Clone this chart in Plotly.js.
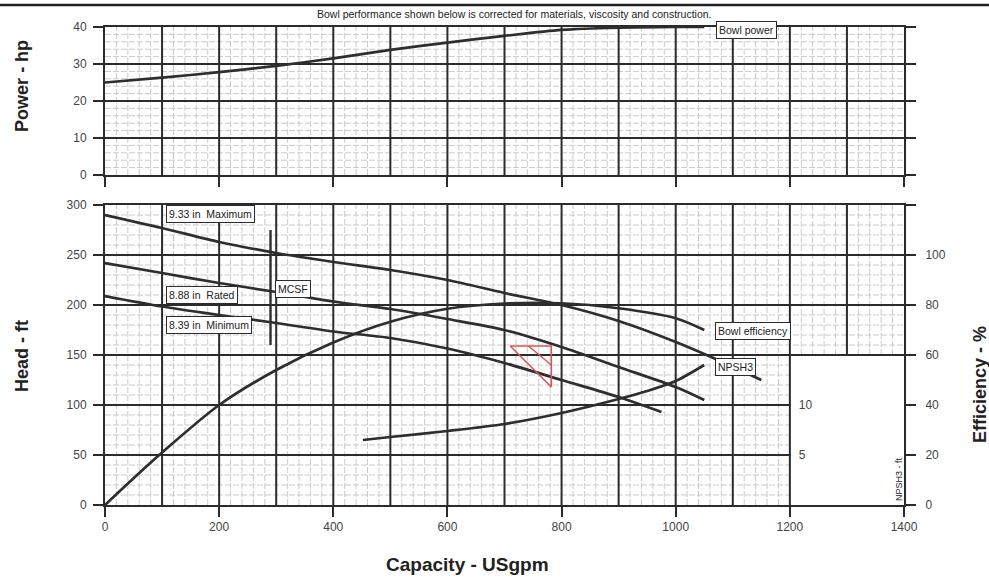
<!DOCTYPE html>
<html><head><meta charset="utf-8">
<script src="https://cdn.plot.ly/plotly-3.0.1.min.js"></script>
<style>html,body{margin:0;padding:0;background:#fff}#chart{width:989px;height:577px}</style>
</head><body><div id="chart"></div>
<script>
// ---- data ----
const xTicks = [0, 200, 400, 600, 800, 1000, 1200, 1400];
const powerTicks = [0, 10, 20, 30, 40];
const headTicks = [0, 50, 100, 150, 200, 250, 300];
const effTicks = [0, 20, 40, 60, 80, 100];
const npshTicks = [5, 10];

const powerQ  = [0, 100, 200, 300, 400, 500, 600, 700, 800, 900, 1000, 1050];
const powerHp = [25, 26.3, 27.8, 29.5, 31.5, 33.8, 35.8, 37.6, 39.2, 39.8, 40, 40];

const maxQ = [0, 100, 200, 300, 400, 500, 600, 700, 800, 900, 1000, 1066, 1150];
const maxH = [290, 277, 263, 252, 243, 235, 225, 212, 200, 184, 163, 147, 125];

const ratedQ = [0, 100, 200, 300, 400, 500, 600, 700, 800, 900, 1000, 1050];
const ratedH = [242, 232, 222, 213, 203.5, 196, 186, 175, 158, 138, 118, 105];

const minQ = [0, 100, 200, 300, 400, 500, 600, 700, 800, 900, 975];
const minH = [209, 198.5, 190, 182, 173.5, 167, 156.5, 142, 125, 108, 93];

const effQ = [0, 50, 100, 200, 300, 400, 500, 600, 700, 800, 900, 1000, 1050];
const effPct = [0, 10.7, 21, 40, 54, 65, 73.3, 78.5, 80.6, 80.7, 78.7, 74.7, 70];

const npshQ  = [452, 500, 600, 700, 800, 900, 950, 1000, 1050];
const npshFt = [6.5, 6.8, 7.4, 8.1, 9.2, 10.6, 11.4, 12.4, 14.0];

const mcsfQ = [290, 290];
const mcsfH = [160, 275];

const dutyTriQ = [710, 782, 782, 710];
const dutyTriH = [159, 159, 118, 159];
const dutyInnerQ = [742, 782];
const dutyInnerH = [159, 140];

// ---- styling ----
const FONT = '"Liberation Sans", Arial, Helvetica, sans-serif';
const DARK = '#2b2b2b';
const CURVE = '#2e2e2e';
const MINOR = '#cacaca';

function curve(x, y, xa, ya, extra) {
  return Object.assign({
    type: 'scatter', mode: 'lines', x: x, y: y, xaxis: xa, yaxis: ya,
    line: {color: CURVE, width: 2.7, shape: 'spline', smoothing: 0.8},
    hoverinfo: 'skip'
  }, extra || {});
}

const traces = [
  curve(powerQ, powerHp, 'x2', 'y'),
  curve(maxQ, maxH, 'x', 'y2'),
  curve(ratedQ, ratedH, 'x', 'y2'),
  curve(minQ, minH, 'x', 'y2'),
  curve(effQ, effPct, 'x', 'y3'),
  curve(npshQ, npshFt, 'x', 'y4'),
  curve(mcsfQ, mcsfH, 'x', 'y2', {line: {color: CURVE, width: 2.4}}),
  curve(dutyTriQ, dutyTriH, 'x', 'y2', {line: {color: '#d8585a', width: 1.6}}),
  curve(dutyInnerQ, dutyInnerH, 'x', 'y2', {line: {color: '#d8585a', width: 1.6}})
];

// ---- grid (chart paper) ----
const shapes = [];
function ln(xref, yref, x0, y0, x1, y1, major) {
  shapes.push({type: 'line', xref: xref, yref: yref, x0: x0, y0: y0, x1: x1, y1: y1, layer: 'below',
    line: major ? {color: DARK, width: 2} : {color: MINOR, width: 1, dash: '6px,2px'}});
}
for (let pass = 0; pass < 2; pass++) {
  const major = pass === 1;
  // top panel
  for (let q = 20; q < 1400; q += 20) {
    if ((q % 100 === 0) !== major) continue;
    ln('x2', 'y', q, 0, q, 40, major);
  }
  for (let p = 2; p < 40; p += 2) {
    if ((p % 10 === 0) !== major) continue;
    ln('x2', 'y', 0, p, 1400, p, major);
  }
  // bottom panel
  for (let q = 20; q < 1400; q += 20) {
    if ((q % 100 === 0) !== major) continue;
    ln('x', 'y2', q, q > 1200 ? 150 : 0, q, 300, major);
  }
  for (let h = 10; h < 300; h += 10) {
    if ((h % 50 === 0) !== major) continue;
    ln('x', 'y2', 0, h, h < 150 ? 1200 : 1400, h, major);
  }
}
// rule across top of page
shapes.push({type: 'line', xref: 'paper', yref: 'paper', x0: -0.14, x1: 1.12, y0: 1.046, y1: 1.046,
  line: {color: '#222', width: 2.5}});

function box(text, x, y, yref) {
  return {text: text, x: x, y: y, xref: 'x', yref: yref, xanchor: 'left', yanchor: 'middle',
    showarrow: false, bgcolor: '#fff', bordercolor: DARK, borderwidth: 1, borderpad: 2,
    font: {size: 10.5, color: '#222', family: FONT}};
}
function label(text, x, y, size, angle) {
  return {text: text, xref: 'paper', yref: 'paper', x: x, y: y, xanchor: 'center', yanchor: 'middle',
    textangle: angle || 0, showarrow: false, font: {size: size, color: '#222', family: FONT}};
}
const nb = '\u00a0\u00a0';
const annotations = [
  box('9.33 in' + nb + 'Maximum', 107, 291.5, 'y2'),
  box('8.88 in' + nb + 'Rated', 107, 210, 'y2'),
  box('8.39 in' + nb + 'Minimum', 107, 180, 'y2'),
  box('MCSF', 298, 216, 'y2'),
  box('Bowl efficiency', 1069, 174, 'y2'),
  box('NPSH3', 1069, 138.5, 'y2'),
  Object.assign(box('Bowl power', 1071, 39.2, 'y'), {xref: 'x2'}),
  label('Bowl performance shown below is corrected for materials, viscosity and construction.', 0.5125, 1.0272, 10.5),
  label('<b>Capacity - USgpm</b>', 0.4536, -0.1255, 19),
  label('<b>Power - hp</b>', -0.104, 0.8766, 18, -90),
  label('<b>Head - ft</b>', -0.104, 0.3117, 18, -90),
  label('<b>Efficiency - %</b>', 1.0952, 0.251, 18, -90),
  label('NPSH3 - ft', 0.9937, 0.0544, 9, -90)
];

const axBase = {showgrid: false, zeroline: false, ticks: 'outside', ticklen: 10, tickwidth: 2,
  tickcolor: DARK, showline: true, linewidth: 2, linecolor: DARK,
  tickfont: {size: 12, color: '#444', family: FONT}};

const layout = {
  width: 989, height: 577,
  margin: {l: 105, r: 85, t: 27, b: 72, pad: 0},
  paper_bgcolor: '#fff', plot_bgcolor: '#fff',
  showlegend: false, hovermode: false,
  font: {family: FONT, size: 12, color: '#333'},
  xaxis: Object.assign({}, axBase, {domain: [0, 1], anchor: 'y2', range: [0, 1400], tickvals: xTicks, mirror: true}),
  xaxis2: Object.assign({}, axBase, {anchor: 'y', matches: 'x', range: [0, 1400], tickvals: xTicks,
    showticklabels: false, mirror: true}),
  yaxis: Object.assign({}, axBase, {domain: [0.6904, 1], anchor: 'x2', range: [0, 40], tickvals: powerTicks,
    mirror: 'ticks', ticklabelstandoff: 4}),
  yaxis2: Object.assign({}, axBase, {domain: [0, 0.6276], anchor: 'x', range: [0, 300], tickvals: headTicks,
    mirror: 'ticks', ticklabelstandoff: 4}),
  yaxis3: Object.assign({}, axBase, {overlaying: 'y2', anchor: 'x', side: 'right', range: [0, 120],
    tickvals: effTicks, showline: false, ticklabelstandoff: 8}),
  yaxis4: Object.assign({}, axBase, {overlaying: 'y2', anchor: 'free', position: 1200 / 1400, side: 'right',
    range: [0, 30], tickvals: npshTicks, ticks: '', showline: false, ticklabelstandoff: 8}),
  shapes: shapes,
  annotations: annotations
};

Plotly.newPlot('chart', traces, layout, {staticPlot: true, displayModeBar: false});
</script>
</body></html>
